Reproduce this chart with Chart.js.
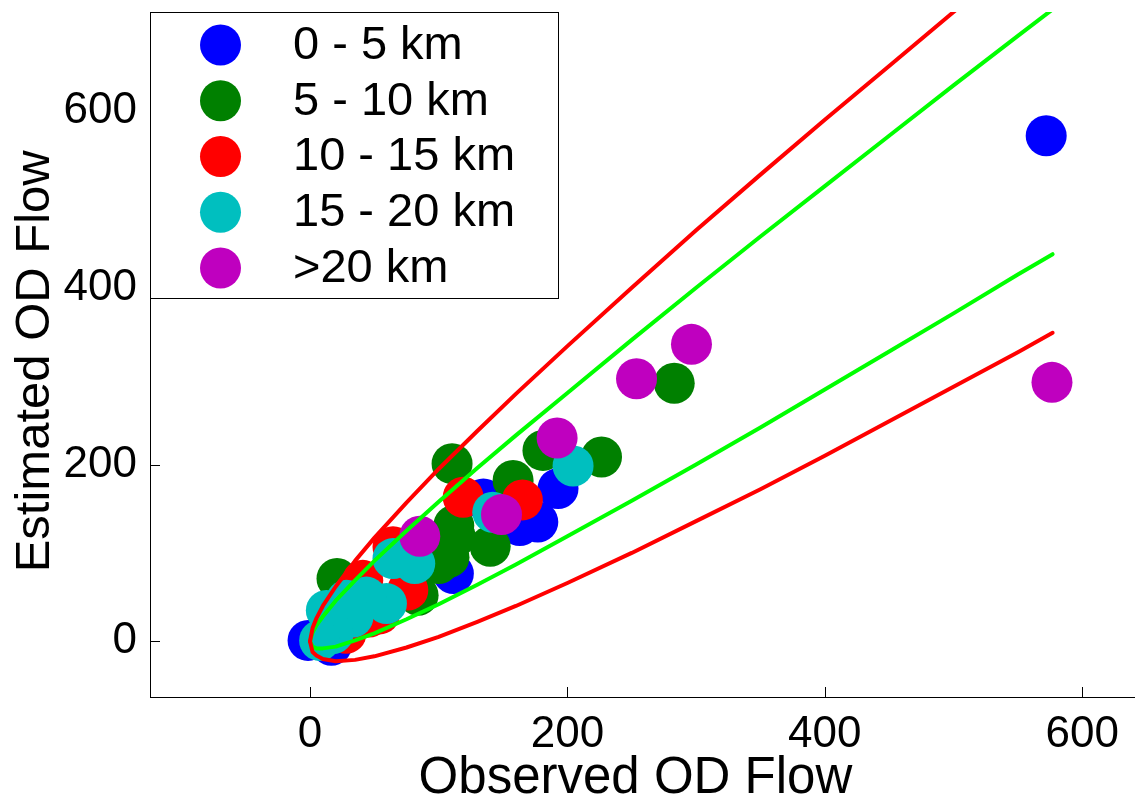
<!DOCTYPE html>
<html>
<head>
<meta charset="utf-8">
<title>Observed vs Estimated OD Flow</title>
<script src="https://cdn.jsdelivr.net/npm/chart.js@4/dist/chart.umd.min.js"></script>
<style>
    html, body { margin: 0; padding: 0; background: #fff; }
    #wrap { width: 1135px; height: 799px; }
</style>
</head>
<body>
<div id="wrap"><canvas id="odChart"></canvas></div>
<script>
// distance bands
const bands = ['0 - 5 km', '5 - 10 km', '10 - 15 km', '15 - 20 km', '>20 km'];

// observed / estimated flows per band
const obs0to5 = [-1.5, 16.6, 134.7, 163, 177, 192.7, 111.4, 572];
const est0to5 = [1, -4.5, 161, 131, 135, 172.8, 76.6, 572];

const obs5to10 = [110.4, 157.8, 181, 226.5, 283, 140, 111.7, 113, 108, 100, 21, 84];
const est5to10 = [201, 182, 216, 208.6, 292, 107.5, 131, 118, 95, 88, 71, 52];

const obs10to15 = [119, 165, 64.5, 76, 41, 46, 54, 28];
const est10to15 = [163, 160, 107, 58, 69, 27.5, 31, 9];

const obs15to20 = [204.4, 142, 81.4, 64.5, 59.4, 12.7, 28.3, 43.8, 33.4, 17.9, 7.5];
const est15to20 = [198.4, 146, 88, 93.6, 42.7, 35, 46.4, 50, 27.5, 8.7, 1];

const obsOver20 = [296.4, 253.7, 192, 148.8, 85.3, 576.5];
const estOver20 = [336, 297, 230, 143.4, 118.8, 293];

// confidence bounds (observed flow, estimated flow)
const boundX = [0, 2, 5, 10, 20, 35, 50, 75, 100, 130, 160, 200, 250, 300, 350, 400, 450, 500, 550, 577];
const redUpperY = [0, 15, 26, 40, 62, 91, 117, 157, 195, 238, 280, 334, 400, 465, 528, 590, 651, 712, 773, 805];
const redLowerY = [0, -12, -16, -20, -22.5, -21, -17, -7, 5, 22, 40, 66, 100, 136, 172, 210, 249, 288, 327, 349];
const greenUpperY = [0, 10, 18, 28, 46, 69, 91, 125, 158, 196, 233, 281, 341, 400, 458, 515, 572, 629, 685, 715];
const greenLowerY = [0, -6, -8, -8, -6, 1, 9, 25, 42, 64, 87, 119, 159, 200, 242, 285, 328, 371, 415, 438];

// axis ticks
const xTicks = [0, 200, 400, 600];
const yTicks = [0, 200, 400, 600];

const bandColors = ['#0000ff', '#008000', '#ff0000', '#00bfbf', '#bf00bf'];
const FONT = '"Liberation Sans", Arial, Helvetica, sans-serif';

function pts(xs, ys) {
    return xs.map((x, i) => ({ x: x, y: ys[i] }));
}

const series = [
    [obs0to5, est0to5], [obs5to10, est5to10], [obs10to15, est10to15],
    [obs15to20, est15to20], [obsOver20, estOver20]
];

const datasets = series.map((s, i) => ({
    label: bands[i],
    data: pts(s[0], s[1]),
    backgroundColor: bandColors[i],
    borderWidth: 0,
    pointRadius: 20.5,
    pointHoverRadius: 20.5,
    order: 10 - i
}));

function boundLine(ys, color, order) {
    return {
        type: 'line',
        label: '',
        data: pts(boundX, ys),
        borderColor: color,
        borderWidth: 4,
        pointRadius: 0,
        fill: false,
        tension: 0,
        borderCapStyle: 'round',
        borderJoinStyle: 'round',
        order: order
    };
}
datasets.push(boundLine(greenUpperY, '#00ff00', 2));
datasets.push(boundLine(greenLowerY, '#00ff00', 2));
datasets.push(boundLine(redUpperY, '#ff0000', 1));
datasets.push(boundLine(redLowerY, '#ff0000', 1));

// tick marks point into the plot area
const innerTicks = {
    id: 'innerTicks',
    afterDatasetsDraw(chart) {
        const { ctx, chartArea, scales } = chart;
        ctx.save();
        ctx.strokeStyle = '#000';
        ctx.lineWidth = 1;
        xTicks.forEach(v => {
            const px = Math.round(scales.x.getPixelForValue(v)) + 0.5;
            ctx.beginPath();
            ctx.moveTo(px, chartArea.bottom);
            ctx.lineTo(px, chartArea.bottom - 10);
            ctx.stroke();
        });
        yTicks.forEach(v => {
            const py = Math.round(scales.y.getPixelForValue(v)) + 0.5;
            ctx.beginPath();
            ctx.moveTo(chartArea.left, py);
            ctx.lineTo(chartArea.left + 10, py);
            ctx.stroke();
        });
        ctx.restore();
    }
};

// boxed legend in the upper left corner
const boxLegend = {
    id: 'boxLegend',
    afterDraw(chart) {
        const { ctx, chartArea } = chart;
        const left = chartArea.left, top = chartArea.top;
        ctx.save();
        ctx.fillStyle = '#fff';
        ctx.fillRect(left, top, 409, 287);
        ctx.strokeStyle = '#000';
        ctx.lineWidth = 1;
        ctx.strokeRect(left + 0.5, top + 0.5, 408, 286);
        ctx.font = '47px ' + FONT;
        ctx.textBaseline = 'middle';
        ctx.textAlign = 'left';
        bands.forEach((b, i) => {
            const cy = top + 33 + i * 55.75;
            ctx.fillStyle = bandColors[i];
            ctx.beginPath();
            ctx.arc(left + 70.5, cy, 20.5, 0, Math.PI * 2);
            ctx.fill();
            ctx.fillStyle = '#000';
            ctx.fillText(b, left + 143, cy + 1);
        });
        ctx.restore();
    }
};

function noPadding(axis) {
    axis.paddingTop = 0;
    axis.paddingBottom = 0;
    axis.paddingLeft = 0;
    axis.paddingRight = 0;
}

new Chart(document.getElementById('odChart'), {
    type: 'scatter',
    data: { datasets: datasets },
    options: {
        responsive: true,
        maintainAspectRatio: false,
        animation: false,
        layout: { autoPadding: false, padding: { top: 12, right: 0, bottom: 0, left: 0 } },
        plugins: {
            legend: { display: false },
            tooltip: { enabled: false }
        },
        scales: {
            x: {
                type: 'linear',
                min: -124.3,
                max: 641,
                afterBuildTicks: axis => { axis.ticks = xTicks.map(v => ({ value: v })); },
                afterFit: axis => { axis.height = 102; noPadding(axis); },
                grid: { display: false, drawTicks: false },
                border: { display: true, color: '#000', width: 1 },
                ticks: { color: '#000', padding: 11, maxRotation: 0, font: { family: FONT, size: 44 } },
                title: {
                    display: true,
                    text: 'Observed OD Flow ',
                    color: '#000',
                    font: { family: FONT, size: 51, lineHeight: 0.8 },
                    padding: { top: 0, bottom: 0 }
                }
            },
            y: {
                type: 'linear',
                min: -63,
                max: 712,
                afterBuildTicks: axis => { axis.ticks = yTicks.map(v => ({ value: v })); },
                afterFit: axis => { axis.width = 150; noPadding(axis); },
                grid: { display: false, drawTicks: false },
                border: { display: true, color: '#000', width: 1 },
                ticks: { color: '#000', padding: 13, font: { family: FONT, size: 44 } },
                title: {
                    display: true,
                    text: 'Estimated OD Flow ',
                    color: '#000',
                    font: { family: FONT, size: 49, lineHeight: 1.2 },
                    padding: { top: 6, bottom: 0 }
                }
            }
        }
    },
    plugins: [innerTicks, boxLegend]
});
</script>
</body>
</html>
